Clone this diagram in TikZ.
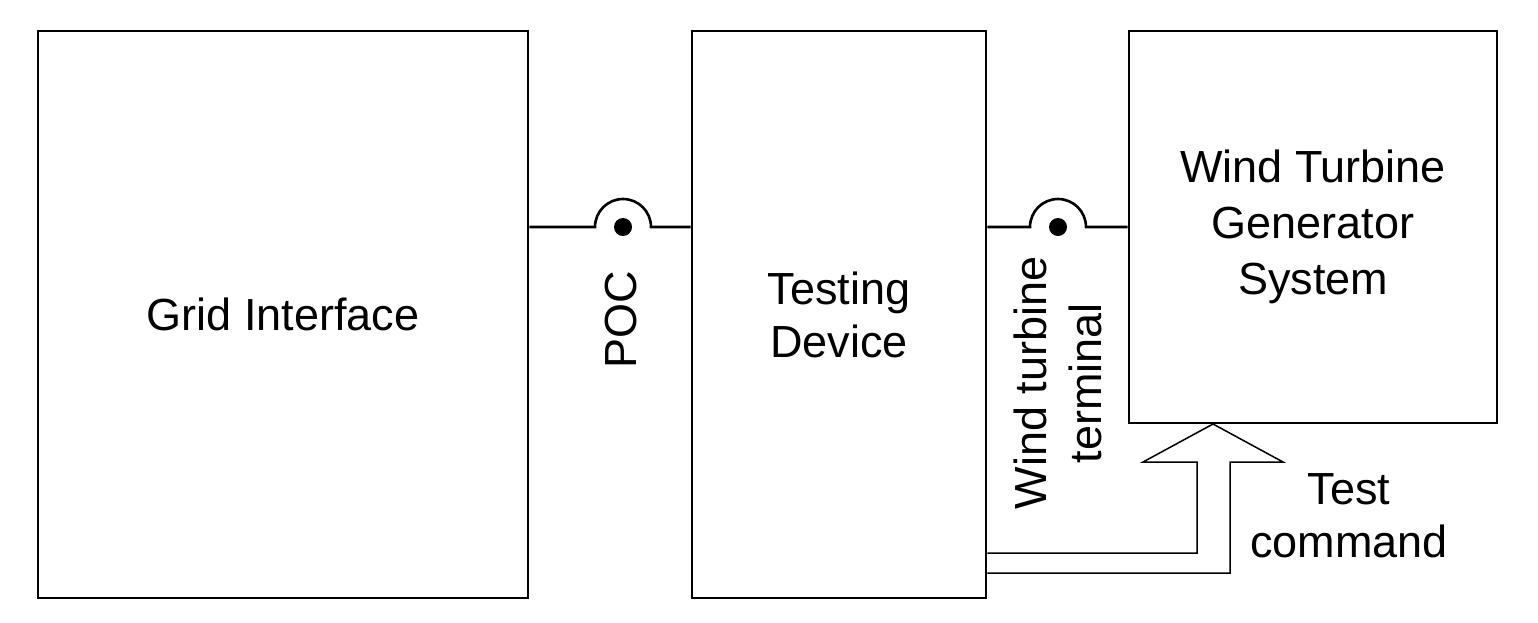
\documentclass[tikz,border=0pt]{standalone}
\usepackage{fontspec}
\setmainfont{Liberation Sans}
\begin{document}
\begin{tikzpicture}[x=1pt,y=-1pt,
  box/.style={draw,line width=2.6pt,inner sep=0pt,align=center,font=\fontsize{45}{53}\selectfont},
  wire/.style={line width=2.6pt},
  lbl/.style={align=center,font=\fontsize{45}{53}\selectfont,inner sep=0pt},
  cmd/.style={line width=1.5pt,line join=miter}]
\useasboundingbox (0,0) rectangle (1538,622);
\node[box,minimum width=490pt,minimum height=567pt] (grid) at (283,314.5) {Grid Interface};
\node[box,minimum width=294pt,minimum height=567pt] (td) at (839,314.5) {Testing\\Device};
\node[box,minimum width=368pt,minimum height=392pt,font=\fontsize{45}{56}\selectfont] (wtg) at (1313,227) {Wind Turbine\\Generator\\System};
% POC connection
\coordinate (poc) at (623,227);
\draw[wire] (grid.east |- poc) -- ([xshift=-28pt]poc) arc[start angle=180,end angle=0,radius=28pt] -- (td.west |- poc);
\fill (poc) circle[radius=9pt];
% wind turbine terminal connection
\coordinate (wtt) at (1058,227);
\draw[wire] (td.east |- wtt) -- ([xshift=-28pt]wtt) arc[start angle=180,end angle=0,radius=28pt] -- (wtg.west |- wtt);
\fill (wtt) circle[radius=9pt];
% labels
\node[lbl,rotate=90] (poclbl) at (621,320) {POC};
\node[lbl,rotate=90,font=\fontsize{45}{55}\selectfont] (wtlbl) at (1058,383) {Wind turbine\\terminal};
\node[lbl] (cmdlbl) at (1349,516) {Test\\command};
% hollow command arrow
\coordinate (tip) at (1213,424);
\draw[cmd] (td.east |- 0,553) -- (1197,553) -- (1197,462) -- (1143,462) -- (tip) -- (1283,462) -- (1230,462) -- (1230,573) -- (td.east |- 0,573);
\end{tikzpicture}
\end{document}
